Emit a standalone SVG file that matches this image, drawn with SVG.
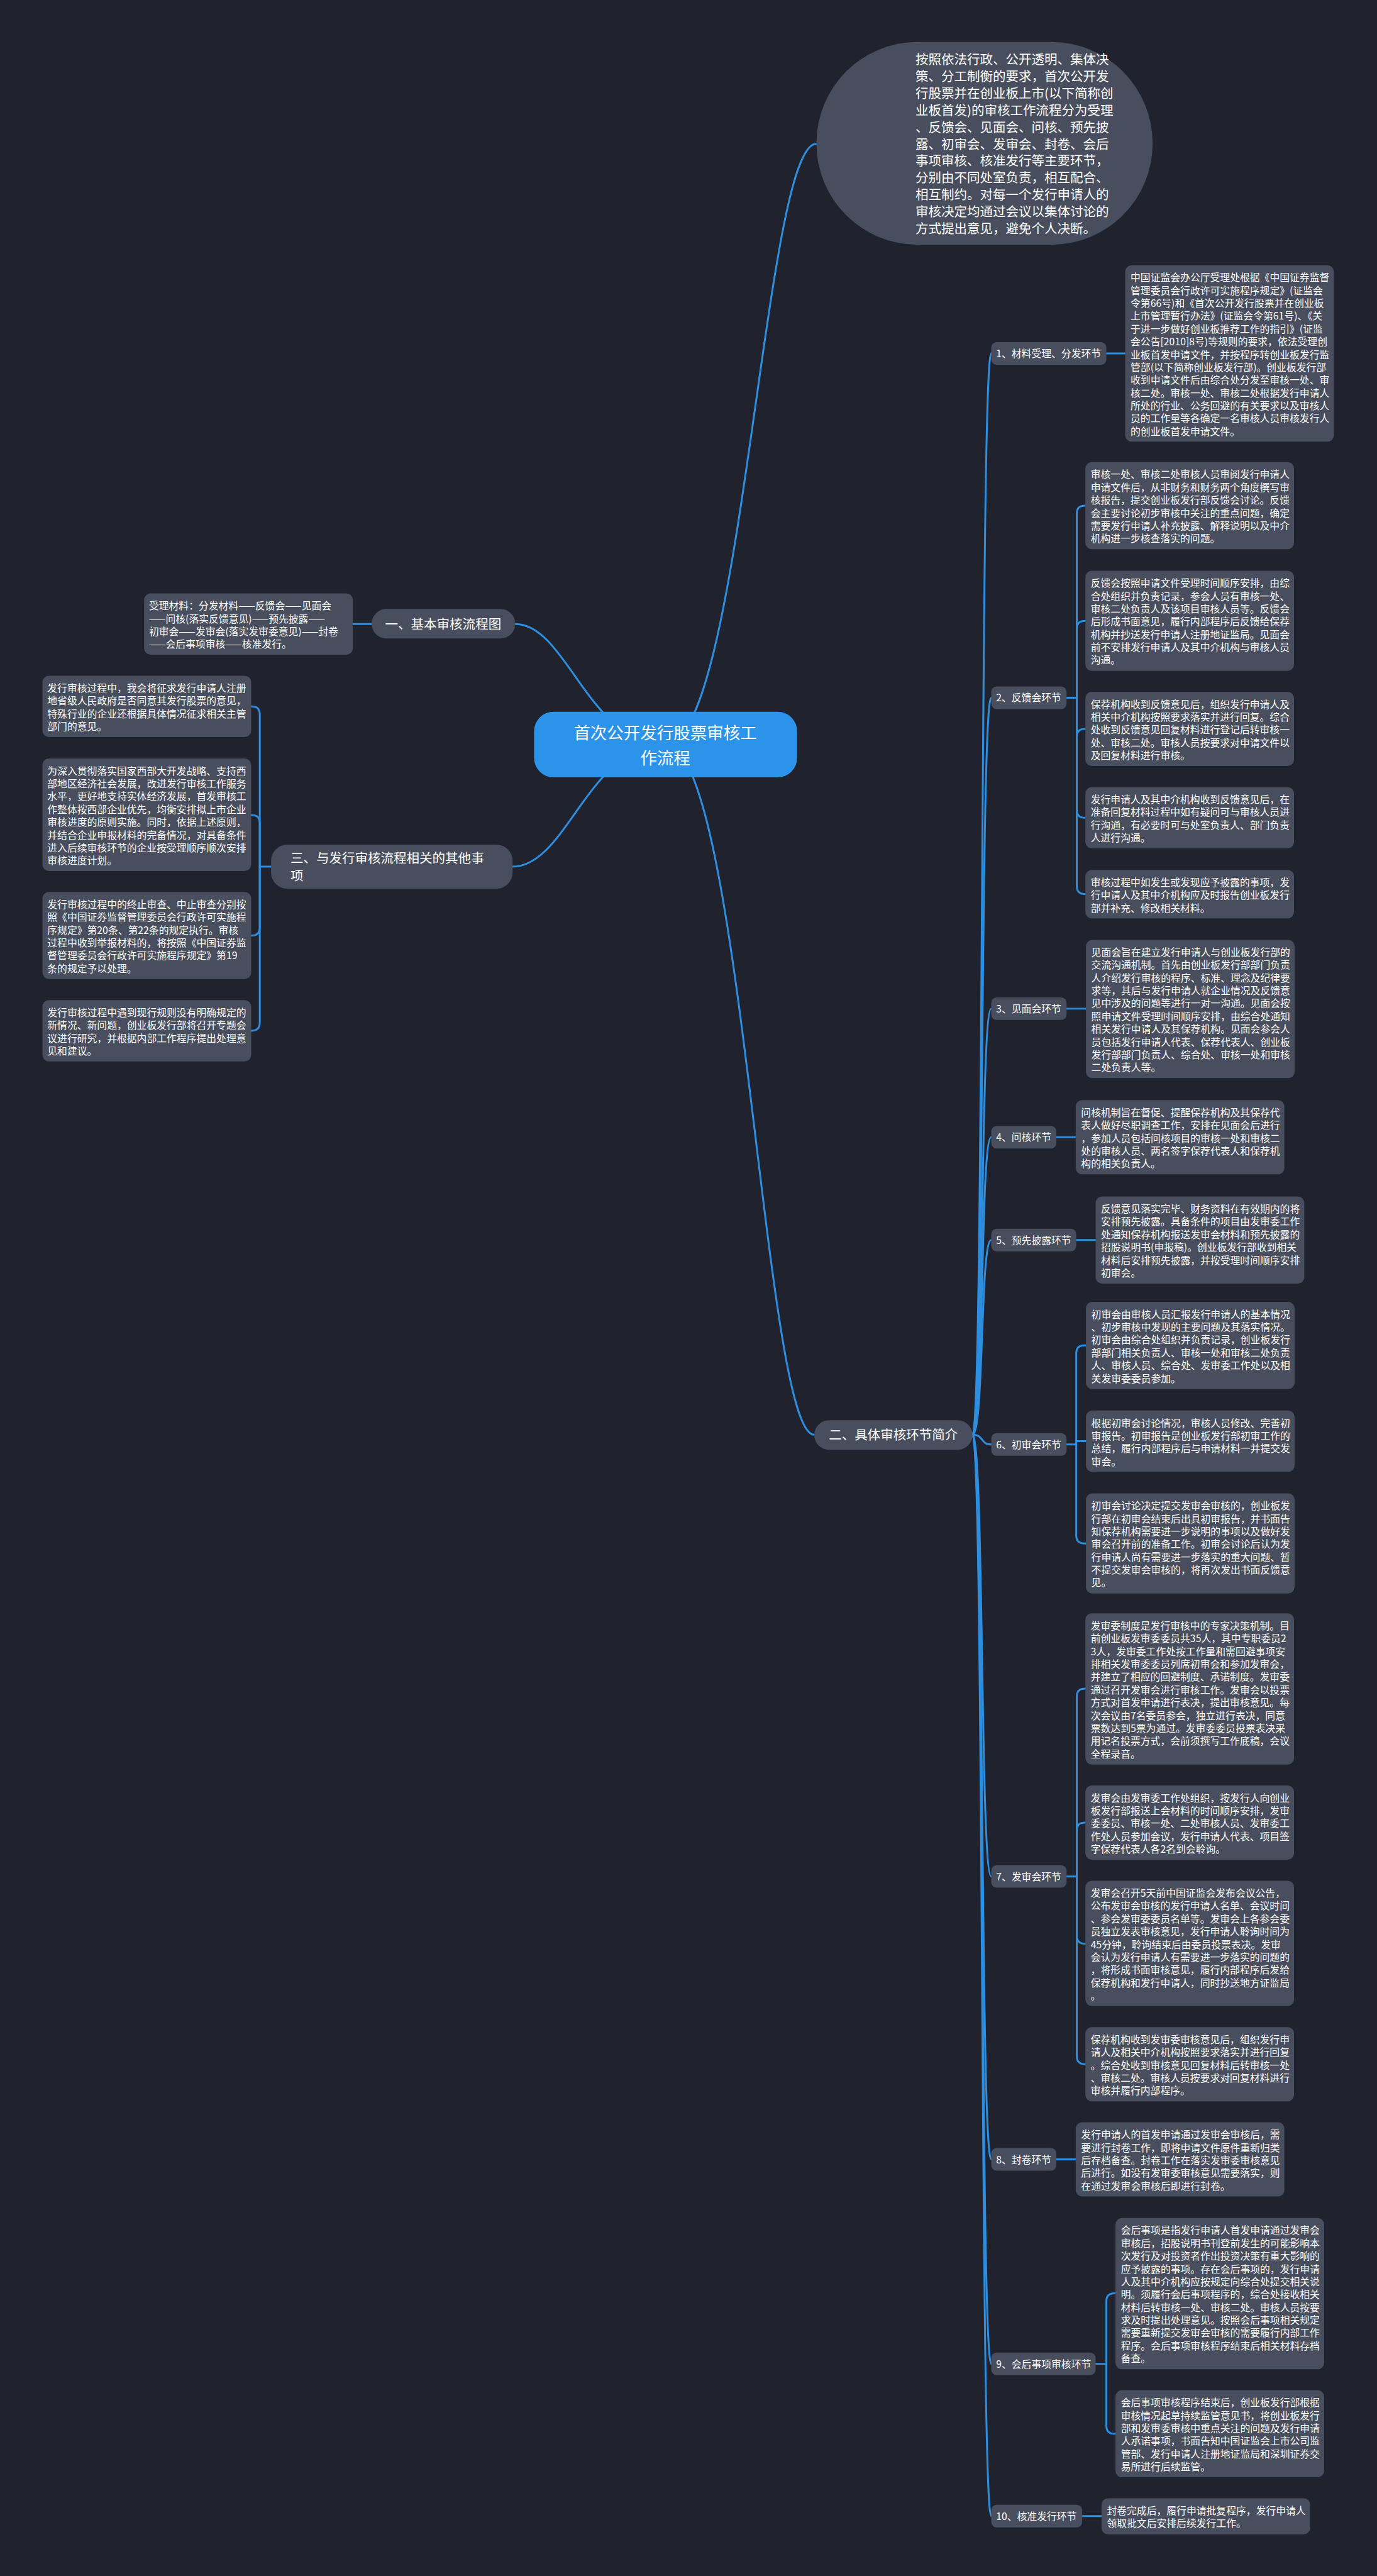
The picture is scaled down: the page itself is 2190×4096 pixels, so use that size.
<svg xmlns="http://www.w3.org/2000/svg" width="2190" height="4096" viewBox="0 0 2190 4096">
<style>
.bg{fill:#20232e}
.bx{fill:#484e5d}
.rt{fill:#2b94ea}
.tx{fill:#ffffff;font-family:"Noto Sans CJK SC","Noto Sans",sans-serif;font-size:18.5px}
.tl{fill:#ffffff;font-family:"Noto Sans CJK SC","Noto Sans",sans-serif;font-size:24px}
.tr{fill:#ffffff;font-family:"Noto Sans CJK SC","Noto Sans",sans-serif;font-size:31px}
.ln{fill:none;stroke:#2e8fe0;stroke-width:3.5;stroke-linecap:round}
</style>
<rect class="bg" x="0" y="0" width="2190" height="4096"/>
<g transform="scale(0.8554)">
<g id="connectors">
<path class="ln" d="M1237 1384 C1380 1384 1420 267 1518 267"/>
<path class="ln" d="M1237 1384 C1380 1384 1420 2667 1514 2667"/>
<path class="ln" d="M1237 1384 C1094 1384 1054 1160 958 1160"/>
<path class="ln" d="M1237 1384 C1094 1384 1054 1611 953 1611"/>
<path class="ln" d="M691 1160 H655"/>
<path class="ln" d="M504 1611 H483"/>
<path class="ln" d="M483 1611 V1328 Q483 1313 468 1313 H467"/>
<path class="ln" d="M483 1611 V1530 Q483 1515 468 1515 H467"/>
<path class="ln" d="M483 1611 V1724 Q483 1739 468 1739 H467"/>
<path class="ln" d="M483 1611 V1901 Q483 1916 468 1916 H467"/>
<path class="ln" d="M1808 2667 C1830 2667 1822 657 1843 657"/>
<path class="ln" d="M1808 2667 C1830 2667 1822 1297 1843 1297"/>
<path class="ln" d="M1808 2667 C1830 2667 1822 1875 1843 1875"/>
<path class="ln" d="M1808 2667 C1830 2667 1822 2114 1843 2114"/>
<path class="ln" d="M1808 2667 C1830 2667 1822 2305 1843 2305"/>
<path class="ln" d="M1808 2667 C1830 2667 1822 2685 1843 2685"/>
<path class="ln" d="M1808 2667 C1830 2667 1822 3488 1843 3488"/>
<path class="ln" d="M1808 2667 C1830 2667 1822 4014 1843 4014"/>
<path class="ln" d="M1808 2667 C1830 2667 1822 4394 1843 4394"/>
<path class="ln" d="M1808 2667 C1830 2667 1822 4677 1843 4677"/>
<path class="ln" d="M2057 657 H2092"/>
<path class="ln" d="M1983 1297 H2002"/>
<path class="ln" d="M2002 1297 V955 Q2002 940 2017 940 H2018"/>
<path class="ln" d="M2002 1297 V1169 Q2002 1154 2017 1154 H2018"/>
<path class="ln" d="M2002 1297 V1370 Q2002 1355 2017 1355 H2018"/>
<path class="ln" d="M2002 1297 V1505 Q2002 1520 2017 1520 H2018"/>
<path class="ln" d="M2002 1297 V1647 Q2002 1662 2017 1662 H2018"/>
<path class="ln" d="M1983 1875 H2019"/>
<path class="ln" d="M1964 2114 H2000"/>
<path class="ln" d="M2001 2305 H2037"/>
<path class="ln" d="M1983 2685 H2001"/>
<path class="ln" d="M2001 2685 V2516 Q2001 2501 2016 2501 H2019"/>
<path class="ln" d="M2001 2685 V2679 H2019"/>
<path class="ln" d="M2001 2685 V2854 Q2001 2869 2016 2869 H2019"/>
<path class="ln" d="M1983 3488 H2002"/>
<path class="ln" d="M2002 3488 V3154 Q2002 3139 2017 3139 H2018"/>
<path class="ln" d="M2002 3488 V3403 Q2002 3388 2017 3388 H2018"/>
<path class="ln" d="M2002 3488 V3598 Q2002 3613 2017 3613 H2018"/>
<path class="ln" d="M2002 3488 V3822 Q2002 3837 2017 3837 H2018"/>
<path class="ln" d="M1964 4014 H2000"/>
<path class="ln" d="M2037 4394 H2057"/>
<path class="ln" d="M2057 4394 V4278 Q2057 4263 2072 4263 H2074"/>
<path class="ln" d="M2057 4394 V4509 Q2057 4524 2072 4524 H2074"/>
<path class="ln" d="M2012 4677 H2048"/>
</g>

<g id="root">
<rect class="rt" x="993" y="1323" width="489" height="122" rx="36"/>
<text class="tr" text-anchor="middle"><tspan x="1237" y="1374">首次公开发行股票审核工</tspan><tspan x="1237" y="1420">作流程</tspan></text>
</g>

<g id="summary">
<rect class="bx" x="1518" y="78" width="625" height="377" rx="188"/>
<text class="tl"><tspan x="1702" y="119">按照依法行政、公开透明、集体决</tspan><tspan x="1702" dy="31.5">策、分工制衡的要求，首次公开发</tspan><tspan x="1702" dy="31.5">行股票并在创业板上市(以下简称创</tspan><tspan x="1702" dy="31.5">业板首发)的审核工作流程分为受理</tspan><tspan x="1702" dy="31.5">、反馈会、见面会、问核、预先披</tspan><tspan x="1702" dy="31.5">露、初审会、发审会、封卷、会后</tspan><tspan x="1702" dy="31.5">事项审核、核准发行等主要环节，</tspan><tspan x="1702" dy="31.5">分别由不同处室负责，相互配合、</tspan><tspan x="1702" dy="31.5">相互制约。对每一个发行申请人的</tspan><tspan x="1702" dy="31.5">审核决定均通过会议以集体讨论的</tspan><tspan x="1702" dy="31.5">方式提出意见，避免个人决断。</tspan></text>
</g>

<g id="n-basic">
<rect class="bx" x="691" y="1132" width="267" height="55" rx="27.5"/>
<text class="tl" x="824" y="1169" text-anchor="middle">一、基本审核流程图</text>
</g>
<g id="n-basic-detail">
<rect class="bx" x="268" y="1103" width="388" height="114" rx="12"/>
<text class="tx"><tspan x="277" y="1133">受理材料：分发材料——反馈会——见面会</tspan><tspan x="277" dy="23.8">——问核(落实反馈意见)——预先披露——</tspan><tspan x="277" dy="23.8">初审会——发审会(落实发审委意见)——封卷</tspan><tspan x="277" dy="23.8">——会后事项审核——核准发行。</tspan></text>
</g>

<g id="n-other">
<rect class="bx" x="504" y="1570" width="449" height="82" rx="30"/>
<text class="tl"><tspan x="540" y="1604">三、与发行审核流程相关的其他事</tspan><tspan x="540" y="1637">项</tspan></text>
</g>
<g id="n-other-a">
<rect class="bx" x="79" y="1256" width="388" height="114" rx="12"/>
<text class="tx"><tspan x="88" y="1286">发行审核过程中，我会将征求发行申请人注册</tspan><tspan x="88" dy="23.8">地省级人民政府是否同意其发行股票的意见，</tspan><tspan x="88" dy="23.8">特殊行业的企业还根据具体情况征求相关主管</tspan><tspan x="88" dy="23.8">部门的意见。</tspan></text>
</g>
<g id="n-other-b">
<rect class="bx" x="79" y="1410" width="388" height="209" rx="12"/>
<text class="tx"><tspan x="88" y="1440">为深入贯彻落实国家西部大开发战略、支持西</tspan><tspan x="88" dy="23.8">部地区经济社会发展，改进发行审核工作服务</tspan><tspan x="88" dy="23.8">水平，更好地支持实体经济发展，首发审核工</tspan><tspan x="88" dy="23.8">作整体按西部企业优先，均衡安排拟上市企业</tspan><tspan x="88" dy="23.8">审核进度的原则实施。同时，依据上述原则，</tspan><tspan x="88" dy="23.8">并结合企业申报材料的完备情况，对具备条件</tspan><tspan x="88" dy="23.8">进入后续审核环节的企业按受理顺序顺次安排</tspan><tspan x="88" dy="23.8">审核进度计划。</tspan></text>
</g>
<g id="n-other-c">
<rect class="bx" x="79" y="1658" width="388" height="162" rx="12"/>
<text class="tx"><tspan x="88" y="1688">发行审核过程中的终止审查、中止审查分别按</tspan><tspan x="88" dy="23.8">照《中国证券监督管理委员会行政许可实施程</tspan><tspan x="88" dy="23.8">序规定》第20条、第22条的规定执行。审核</tspan><tspan x="88" dy="23.8">过程中收到举报材料的，将按照《中国证券监</tspan><tspan x="88" dy="23.8">督管理委员会行政许可实施程序规定》第19</tspan><tspan x="88" dy="23.8">条的规定予以处理。</tspan></text>
</g>
<g id="n-other-d">
<rect class="bx" x="79" y="1859" width="388" height="114" rx="12"/>
<text class="tx"><tspan x="88" y="1889">发行审核过程中遇到现行规则没有明确规定的</tspan><tspan x="88" dy="23.8">新情况、新问题，创业板发行部将召开专题会</tspan><tspan x="88" dy="23.8">议进行研究，并根据内部工作程序提出处理意</tspan><tspan x="88" dy="23.8">见和建议。</tspan></text>
</g>

<g id="n-detail">
<rect class="bx" x="1514" y="2640" width="294" height="55" rx="27.5"/>
<text class="tl" x="1661" y="2676" text-anchor="middle">二、具体审核环节简介</text>
</g>

<g id="l1"><rect class="bx" x="1843" y="636" width="214" height="42" rx="10"/><text class="tx" x="1852" y="664">1、材料受理、分发环节</text></g>
<g id="b1"><rect class="bx" x="2092" y="493" width="388" height="328" rx="12"/>
<text class="tx"><tspan x="2102" y="523">中国证监会办公厅受理处根据《中国证券监督</tspan><tspan x="2102" dy="23.8">管理委员会行政许可实施程序规定》(证监会</tspan><tspan x="2102" dy="23.8">令第66号)和《首次公开发行股票并在创业板</tspan><tspan x="2102" dy="23.8">上市管理暂行办法》(证监会令第61号)、《关</tspan><tspan x="2102" dy="23.8">于进一步做好创业板推荐工作的指引》(证监</tspan><tspan x="2102" dy="23.8">会公告[2010]8号)等规则的要求，依法受理创</tspan><tspan x="2102" dy="23.8">业板首发申请文件，并按程序转创业板发行监</tspan><tspan x="2102" dy="23.8">管部(以下简称创业板发行部)。创业板发行部</tspan><tspan x="2102" dy="23.8">收到申请文件后由综合处分发至审核一处、审</tspan><tspan x="2102" dy="23.8">核二处。审核一处、审核二处根据发行申请人</tspan><tspan x="2102" dy="23.8">所处的行业、公务回避的有关要求以及审核人</tspan><tspan x="2102" dy="23.8">员的工作量等各确定一名审核人员审核发行人</tspan><tspan x="2102" dy="23.8">的创业板首发申请文件。</tspan></text></g>

<g id="l2"><rect class="bx" x="1843" y="1276" width="140" height="42" rx="10"/><text class="tx" x="1852" y="1304">2、反馈会环节</text></g>
<g id="b2a"><rect class="bx" x="2018" y="859" width="388" height="162" rx="12"/>
<text class="tx"><tspan x="2028" y="889">审核一处、审核二处审核人员审阅发行申请人</tspan><tspan x="2028" dy="23.8">申请文件后，从非财务和财务两个角度撰写审</tspan><tspan x="2028" dy="23.8">核报告，提交创业板发行部反馈会讨论。反馈</tspan><tspan x="2028" dy="23.8">会主要讨论初步审核中关注的重点问题，确定</tspan><tspan x="2028" dy="23.8">需要发行申请人补充披露、解释说明以及中介</tspan><tspan x="2028" dy="23.8">机构进一步核查落实的问题。</tspan></text></g>
<g id="b2b"><rect class="bx" x="2018" y="1061" width="388" height="186" rx="12"/>
<text class="tx"><tspan x="2028" y="1091">反馈会按照申请文件受理时间顺序安排，由综</tspan><tspan x="2028" dy="23.8">合处组织并负责记录，参会人员有审核一处、</tspan><tspan x="2028" dy="23.8">审核二处负责人及该项目审核人员等。反馈会</tspan><tspan x="2028" dy="23.8">后形成书面意见，履行内部程序后反馈给保荐</tspan><tspan x="2028" dy="23.8">机构并抄送发行申请人注册地证监局。见面会</tspan><tspan x="2028" dy="23.8">前不安排发行申请人及其中介机构与审核人员</tspan><tspan x="2028" dy="23.8">沟通。</tspan></text></g>
<g id="b2c"><rect class="bx" x="2018" y="1286" width="388" height="138" rx="12"/>
<text class="tx"><tspan x="2028" y="1316">保荐机构收到反馈意见后，组织发行申请人及</tspan><tspan x="2028" dy="23.8">相关中介机构按照要求落实并进行回复。综合</tspan><tspan x="2028" dy="23.8">处收到反馈意见回复材料进行登记后转审核一</tspan><tspan x="2028" dy="23.8">处、审核二处。审核人员按要求对申请文件以</tspan><tspan x="2028" dy="23.8">及回复材料进行审核。</tspan></text></g>
<g id="b2d"><rect class="bx" x="2018" y="1463" width="388" height="114" rx="12"/>
<text class="tx"><tspan x="2028" y="1493">发行申请人及其中介机构收到反馈意见后，在</tspan><tspan x="2028" dy="23.8">准备回复材料过程中如有疑问可与审核人员进</tspan><tspan x="2028" dy="23.8">行沟通，有必要时可与处室负责人、部门负责</tspan><tspan x="2028" dy="23.8">人进行沟通。</tspan></text></g>
<g id="b2e"><rect class="bx" x="2018" y="1617" width="388" height="90" rx="12"/>
<text class="tx"><tspan x="2028" y="1647">审核过程中如发生或发现应予披露的事项，发</tspan><tspan x="2028" dy="23.8">行申请人及其中介机构应及时报告创业板发行</tspan><tspan x="2028" dy="23.8">部并补充、修改相关材料。</tspan></text></g>

<g id="l3"><rect class="bx" x="1843" y="1854" width="140" height="42" rx="10"/><text class="tx" x="1852" y="1882">3、见面会环节</text></g>
<g id="b3"><rect class="bx" x="2019" y="1747" width="388" height="257" rx="12"/>
<text class="tx"><tspan x="2029" y="1777">见面会旨在建立发行申请人与创业板发行部的</tspan><tspan x="2029" dy="23.8">交流沟通机制。首先由创业板发行部部门负责</tspan><tspan x="2029" dy="23.8">人介绍发行审核的程序、标准、理念及纪律要</tspan><tspan x="2029" dy="23.8">求等，其后与发行申请人就企业情况及反馈意</tspan><tspan x="2029" dy="23.8">见中涉及的问题等进行一对一沟通。见面会按</tspan><tspan x="2029" dy="23.8">照申请文件受理时间顺序安排，由综合处通知</tspan><tspan x="2029" dy="23.8">相关发行申请人及其保荐机构。见面会参会人</tspan><tspan x="2029" dy="23.8">员包括发行申请人代表、保荐代表人、创业板</tspan><tspan x="2029" dy="23.8">发行部部门负责人、综合处、审核一处和审核</tspan><tspan x="2029" dy="23.8">二处负责人等。</tspan></text></g>

<g id="l4"><rect class="bx" x="1843" y="2093" width="121" height="42" rx="10"/><text class="tx" x="1852" y="2121">4、问核环节</text></g>
<g id="b4"><rect class="bx" x="2000" y="2045" width="388" height="138" rx="12"/>
<text class="tx"><tspan x="2010" y="2075">问核机制旨在督促、提醒保荐机构及其保荐代</tspan><tspan x="2010" dy="23.8">表人做好尽职调查工作，安排在见面会后进行</tspan><tspan x="2010" dy="23.8">，参加人员包括问核项目的审核一处和审核二</tspan><tspan x="2010" dy="23.8">处的审核人员、两名签字保荐代表人和保荐机</tspan><tspan x="2010" dy="23.8">构的相关负责人。</tspan></text></g>

<g id="l5"><rect class="bx" x="1843" y="2284" width="158" height="42" rx="10"/><text class="tx" x="1852" y="2312">5、预先披露环节</text></g>
<g id="b5"><rect class="bx" x="2037" y="2224" width="388" height="162" rx="12"/>
<text class="tx"><tspan x="2047" y="2254">反馈意见落实完毕、财务资料在有效期内的将</tspan><tspan x="2047" dy="23.8">安排预先披露。具备条件的项目由发审委工作</tspan><tspan x="2047" dy="23.8">处通知保荐机构报送发审会材料和预先披露的</tspan><tspan x="2047" dy="23.8">招股说明书(申报稿)。创业板发行部收到相关</tspan><tspan x="2047" dy="23.8">材料后安排预先披露，并按受理时间顺序安排</tspan><tspan x="2047" dy="23.8">初审会。</tspan></text></g>

<g id="l6"><rect class="bx" x="1843" y="2664" width="140" height="42" rx="10"/><text class="tx" x="1852" y="2692">6、初审会环节</text></g>
<g id="b6a"><rect class="bx" x="2019" y="2420" width="388" height="162" rx="12"/>
<text class="tx"><tspan x="2029" y="2450">初审会由审核人员汇报发行申请人的基本情况</tspan><tspan x="2029" dy="23.8">、初步审核中发现的主要问题及其落实情况。</tspan><tspan x="2029" dy="23.8">初审会由综合处组织并负责记录，创业板发行</tspan><tspan x="2029" dy="23.8">部部门相关负责人、审核一处和审核二处负责</tspan><tspan x="2029" dy="23.8">人、审核人员、综合处、发审委工作处以及相</tspan><tspan x="2029" dy="23.8">关发审委委员参加。</tspan></text></g>
<g id="b6b"><rect class="bx" x="2019" y="2622" width="388" height="114" rx="12"/>
<text class="tx"><tspan x="2029" y="2652">根据初审会讨论情况，审核人员修改、完善初</tspan><tspan x="2029" dy="23.8">审报告。初审报告是创业板发行部初审工作的</tspan><tspan x="2029" dy="23.8">总结，履行内部程序后与申请材料一并提交发</tspan><tspan x="2029" dy="23.8">审会。</tspan></text></g>
<g id="b6c"><rect class="bx" x="2019" y="2776" width="388" height="186" rx="12"/>
<text class="tx"><tspan x="2029" y="2806">初审会讨论决定提交发审会审核的，创业板发</tspan><tspan x="2029" dy="23.8">行部在初审会结束后出具初审报告，并书面告</tspan><tspan x="2029" dy="23.8">知保荐机构需要进一步说明的事项以及做好发</tspan><tspan x="2029" dy="23.8">审会召开前的准备工作。初审会讨论后认为发</tspan><tspan x="2029" dy="23.8">行申请人尚有需要进一步落实的重大问题、暂</tspan><tspan x="2029" dy="23.8">不提交发审会审核的，将再次发出书面反馈意</tspan><tspan x="2029" dy="23.8">见。</tspan></text></g>

<g id="l7"><rect class="bx" x="1843" y="3467" width="140" height="42" rx="10"/><text class="tx" x="1852" y="3495">7、发审会环节</text></g>
<g id="b7a"><rect class="bx" x="2018" y="2999" width="388" height="281" rx="12"/>
<text class="tx"><tspan x="2028" y="3029">发审委制度是发行审核中的专家决策机制。目</tspan><tspan x="2028" dy="23.8">前创业板发审委委员共35人，其中专职委员2</tspan><tspan x="2028" dy="23.8">3人，发审委工作处按工作量和需回避事项安</tspan><tspan x="2028" dy="23.8">排相关发审委委员列席初审会和参加发审会，</tspan><tspan x="2028" dy="23.8">并建立了相应的回避制度、承诺制度。发审委</tspan><tspan x="2028" dy="23.8">通过召开发审会进行审核工作。发审会以投票</tspan><tspan x="2028" dy="23.8">方式对首发申请进行表决，提出审核意见。每</tspan><tspan x="2028" dy="23.8">次会议由7名委员参会，独立进行表决，同意</tspan><tspan x="2028" dy="23.8">票数达到5票为通过。发审委委员投票表决采</tspan><tspan x="2028" dy="23.8">用记名投票方式，会前须撰写工作底稿，会议</tspan><tspan x="2028" dy="23.8">全程录音。</tspan></text></g>
<g id="b7b"><rect class="bx" x="2018" y="3319" width="388" height="138" rx="12"/>
<text class="tx"><tspan x="2028" y="3349">发审会由发审委工作处组织，按发行人向创业</tspan><tspan x="2028" dy="23.8">板发行部报送上会材料的时间顺序安排，发审</tspan><tspan x="2028" dy="23.8">委委员、审核一处、二处审核人员、发审委工</tspan><tspan x="2028" dy="23.8">作处人员参加会议，发行申请人代表、项目签</tspan><tspan x="2028" dy="23.8">字保荐代表人各2名到会聆询。</tspan></text></g>
<g id="b7c"><rect class="bx" x="2018" y="3496" width="388" height="233" rx="12"/>
<text class="tx"><tspan x="2028" y="3526">发审会召开5天前中国证监会发布会议公告，</tspan><tspan x="2028" dy="23.8">公布发审会审核的发行申请人名单、会议时间</tspan><tspan x="2028" dy="23.8">、参会发审委委员名单等。发审会上各参会委</tspan><tspan x="2028" dy="23.8">员独立发表审核意见，发行申请人聆询时间为</tspan><tspan x="2028" dy="23.8">45分钟，聆询结束后由委员投票表决。发审</tspan><tspan x="2028" dy="23.8">会认为发行申请人有需要进一步落实的问题的</tspan><tspan x="2028" dy="23.8">，将形成书面审核意见，履行内部程序后发给</tspan><tspan x="2028" dy="23.8">保荐机构和发行申请人，同时抄送地方证监局</tspan><tspan x="2028" dy="23.8">。</tspan></text></g>
<g id="b7d"><rect class="bx" x="2018" y="3768" width="388" height="138" rx="12"/>
<text class="tx"><tspan x="2028" y="3798">保荐机构收到发审委审核意见后，组织发行申</tspan><tspan x="2028" dy="23.8">请人及相关中介机构按照要求落实并进行回复</tspan><tspan x="2028" dy="23.8">。综合处收到审核意见回复材料后转审核一处</tspan><tspan x="2028" dy="23.8">、审核二处。审核人员按要求对回复材料进行</tspan><tspan x="2028" dy="23.8">审核并履行内部程序。</tspan></text></g>

<g id="l8"><rect class="bx" x="1843" y="3993" width="121" height="42" rx="10"/><text class="tx" x="1852" y="4021">8、封卷环节</text></g>
<g id="b8"><rect class="bx" x="2000" y="3945" width="388" height="138" rx="12"/>
<text class="tx"><tspan x="2010" y="3975">发行申请人的首发申请通过发审会审核后，需</tspan><tspan x="2010" dy="23.8">要进行封卷工作，即将申请文件原件重新归类</tspan><tspan x="2010" dy="23.8">后存档备查。封卷工作在落实发审委审核意见</tspan><tspan x="2010" dy="23.8">后进行。如没有发审委审核意见需要落实，则</tspan><tspan x="2010" dy="23.8">在通过发审会审核后即进行封卷。</tspan></text></g>

<g id="l9"><rect class="bx" x="1843" y="4373" width="194" height="42" rx="10"/><text class="tx" x="1852" y="4401">9、会后事项审核环节</text></g>
<g id="b9a"><rect class="bx" x="2074" y="4123" width="388" height="281" rx="12"/>
<text class="tx"><tspan x="2084" y="4153">会后事项是指发行申请人首发申请通过发审会</tspan><tspan x="2084" dy="23.8">审核后，招股说明书刊登前发生的可能影响本</tspan><tspan x="2084" dy="23.8">次发行及对投资者作出投资决策有重大影响的</tspan><tspan x="2084" dy="23.8">应予披露的事项。存在会后事项的，发行申请</tspan><tspan x="2084" dy="23.8">人及其中介机构应按规定向综合处提交相关说</tspan><tspan x="2084" dy="23.8">明。须履行会后事项程序的，综合处接收相关</tspan><tspan x="2084" dy="23.8">材料后转审核一处、审核二处。审核人员按要</tspan><tspan x="2084" dy="23.8">求及时提出处理意见。按照会后事项相关规定</tspan><tspan x="2084" dy="23.8">需要重新提交发审会审核的需要履行内部工作</tspan><tspan x="2084" dy="23.8">程序。会后事项审核程序结束后相关材料存档</tspan><tspan x="2084" dy="23.8">备查。</tspan></text></g>
<g id="b9b"><rect class="bx" x="2074" y="4443" width="388" height="162" rx="12"/>
<text class="tx"><tspan x="2084" y="4473">会后事项审核程序结束后，创业板发行部根据</tspan><tspan x="2084" dy="23.8">审核情况起草持续监管意见书，将创业板发行</tspan><tspan x="2084" dy="23.8">部和发审委审核中重点关注的问题及发行申请</tspan><tspan x="2084" dy="23.8">人承诺事项，书面告知中国证监会上市公司监</tspan><tspan x="2084" dy="23.8">管部、发行申请人注册地证监局和深圳证券交</tspan><tspan x="2084" dy="23.8">易所进行后续监管。</tspan></text></g>

<g id="l10"><rect class="bx" x="1843" y="4656" width="169" height="42" rx="10"/><text class="tx" x="1852" y="4684">10、核准发行环节</text></g>
<g id="b10"><rect class="bx" x="2048" y="4644" width="388" height="67" rx="12"/>
<text class="tx"><tspan x="2058" y="4674">封卷完成后，履行申请批复程序，发行申请人</tspan><tspan x="2058" dy="23.8">领取批文后安排后续发行工作。</tspan></text></g>
</g>
</svg>
